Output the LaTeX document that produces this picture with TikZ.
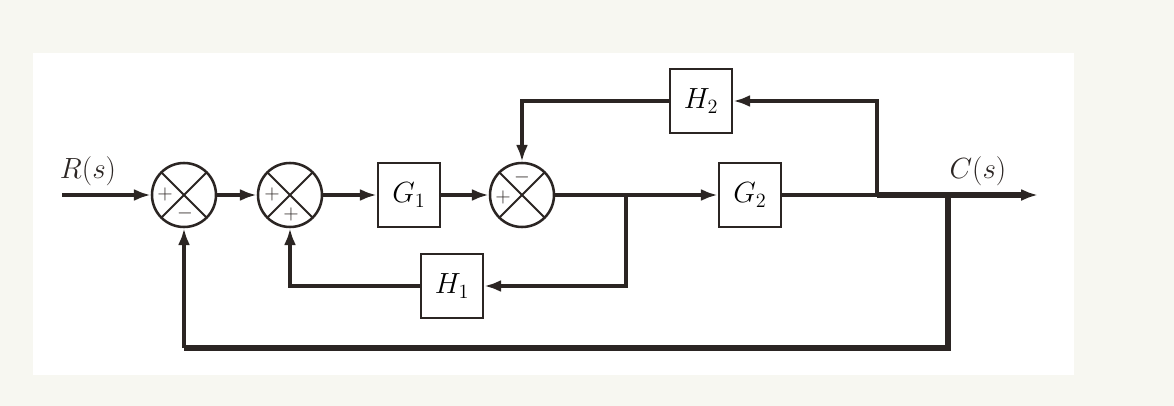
\documentclass[tikz,border=0pt]{standalone}
\usetikzlibrary{arrows.meta,positioning}
\definecolor{paper}{HTML}{F7F7F1}
\definecolor{ink}{HTML}{2B2523}

\begin{document}
\begin{tikzpicture}[
  x=0.25mm,y=-0.25mm,
  block/.style={draw=ink,line width=1.8pt,fill=white,minimum width=15.5mm,
    minimum height=16mm,inner sep=0pt,font=\fontsize{20}{24}\selectfont},
  sum/.style={draw=ink,circle,line width=1.8pt,minimum size=16mm,inner sep=0pt,
    path picture={\draw[ink,line width=1.3pt]
      (path picture bounding box.north west) -- (path picture bounding box.south east)
      (path picture bounding box.north east) -- (path picture bounding box.south west);}},
  sign/.style={inner sep=0pt,text=ink,font=\fontsize{15}{17}\selectfont},
  signal/.style={font=\fontsize{20}{24}\selectfont,text=ink},
  line/.style={draw=ink,line width=2.4pt},
  bus/.style={draw=ink,line width=4.2pt},
  arrow/.style={-{Latex[length=4.2mm,width=3mm]}}
]
  \fill[paper] (0,0) rectangle (1174,406);
  \fill[white] (33,53) rectangle (1074,375);

  \coordinate (in) at (62,195);
  \node[sum] (s1) at (184,195) {};
  \node[sum] (s2) at (290,195) {};
  \node[block] (G1) at (409,195) {$G_1$};
  \node[sum] (s3) at (522,195) {};
  \node[block] (G2) at (750,195) {$G_2$};
  \node[block] (H2) at (701,101) {$H_2$};
  \node[block] (H1) at (452,286) {$H_1$};
  \coordinate (b1) at (626,195);
  \coordinate (b2) at (877,195);
  \coordinate (b3) at (948,195);
  \coordinate (fb) at (948,348);
  \coordinate (out) at (1038,195);

  \node[sign] (p1) at (165,194) {$+$};
  \node[sign] (m1) at (185,213) {$-$};
  \node[sign] (p2) at (272,194) {$+$};
  \node[sign] (q2) at (291,214) {$+$};
  \node[sign] (p3) at (503,197) {$+$};
  \node[sign] (m3) at (522,177) {$-$};

  \node[signal] (R) at (88,171) {$R(s)$};
  \node[signal] (C) at (978,171) {$C(s)$};

  \draw[line,arrow] (in) -- (s1);
  \draw[line,arrow] (s1) -- (s2);
  \draw[line,arrow] (s2) -- (G1);
  \draw[line,arrow] (G1) -- (s3);
  \draw[line,arrow] (s3) -- (G2);
  \draw[line] (G2) -- (b2);
  \draw[bus,arrow] (b2) -- (out);
  \draw[line,arrow] (b2) |- (H2);
  \draw[line,arrow] (H2) -| (s3);
  \draw[line,arrow] (b1) |- (H1);
  \draw[line,arrow] (H1) -| (s2);
  \draw[bus] (b3) -- (fb) -- (fb -| s1);
  \draw[line,arrow] (fb -| s1) -- (s1);
\end{tikzpicture}
\end{document}
